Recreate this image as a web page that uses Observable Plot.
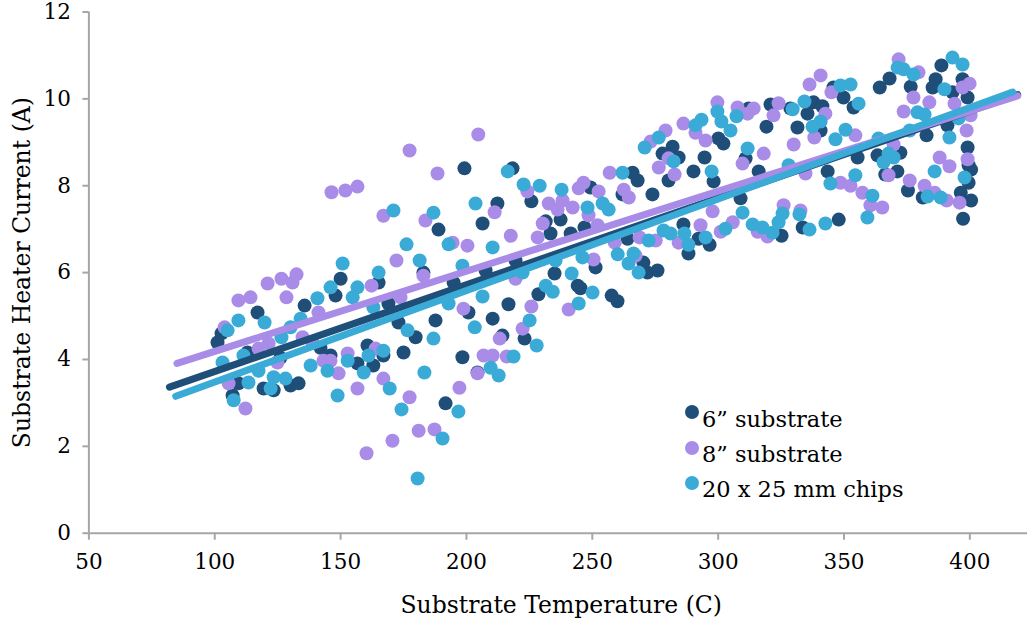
<!DOCTYPE html>
<html><head><meta charset="utf-8">
<script src="https://cdn.jsdelivr.net/npm/d3@7"></script>
<script src="https://cdn.jsdelivr.net/npm/@observablehq/plot@0.6"></script>
<style>
body{margin:0;background:#fff;}
#chart{position:relative;width:1027px;height:624px;overflow:hidden;background:#fff;}
.lg-dot{position:absolute;width:14px;height:14px;border-radius:50%;}
.lg-txt{position:absolute;font-family:"DejaVu Serif";font-size:22.5px;line-height:26px;color:#000;white-space:nowrap;}
</style></head>
<body><div id="chart"></div>
<script>
const seriesNames = ["6\u201d substrate", "8\u201d substrate", "20 x 25 mm chips"];
const seriesColors = ["#1f4e79", "#a98be8", "#3aabd6"];
const xTicks = [50, 100, 150, 200, 250, 300, 350, 400];
const yTicks = [0, 2, 4, 6, 8, 10, 12];

const temp6 = [101.1,102.7,117.0,113.0,135.7,148.0,142.0,146.0,109.4,119.4,123.4,130.1,133.3,107.1,126.1,150.0,
199.2,188.9,182.9,194.9,165.1,169.0,173.0,179.8,187.7,160.7,167.0,163.0,156.7,175.0,198.4,191.7,
218.3,225.8,212.3,206.4,249.3,237.4,231.5,233.4,241.4,246.9,207.6,219.5,235.0,251.3,244.2,245.3,228.6,216.7,200.8,210.4,223.1,214.3,204.4,
300.1,302.1,281.9,277.9,284.3,294.6,290.2,280.3,298.2,266.0,268.0,262.0,273.9,264.0,286.2,288.2,292.2,296.6,270.3,271.9,275.9,257.7,260.0,
345.8,349.8,353.8,312.1,320.8,328.7,337.9,341.4,335.5,340.7,331.5,319.2,310.9,316.1,355.4,343.5,308.9,325.2,333.6,347.9,
388.7,368.1,364.2,376.5,386.4,385.2,393.1,397.1,399.1,391.1,382.8,372.4,363.3,399.1,399.5,371.2,366.4,399.5,375.4,381.3,396.4,400.5,397.3,400.5];
const current6 = [4.39,4.60,5.08,4.16,5.24,5.47,4.27,4.09,3.45,3.33,3.29,3.40,3.45,3.17,4.04,5.86,
8.40,6.99,6.00,5.77,5.77,5.29,4.85,4.51,4.90,4.32,4.09,3.86,3.91,4.16,4.05,2.99,
8.40,7.64,7.59,7.13,7.96,7.22,7.18,6.90,6.90,7.04,6.05,6.28,5.98,6.12,5.70,5.64,5.50,5.27,5.08,4.94,4.48,4.55,3.70,
9.09,8.97,8.90,8.74,8.65,8.65,8.33,8.12,8.10,8.30,8.12,7.80,7.80,6.78,7.11,6.44,6.78,6.64,6.23,6.00,6.05,5.47,5.34,
10.26,10.03,9.80,9.78,9.87,9.78,9.92,9.83,9.66,9.27,9.34,9.36,8.63,8.33,8.65,8.33,7.71,6.85,7.04,7.22,
10.77,10.47,10.26,10.28,10.45,10.26,10.15,10.45,10.03,9.39,9.16,8.76,8.70,8.88,8.47,8.33,8.26,8.07,7.89,7.73,7.84,7.66,7.24,8.37];

const temp8 = [146.4,121.0,126.5,130.9,132.5,128.5,109.4,114.2,103.9,117.4,121.4,141.2,134.9,138.8,143.2,146.0,149.2,105.5,112.2,124.9,
177.4,188.5,156.7,151.9,167.0,183.7,194.5,200.4,172.2,182.9,162.3,173.8,198.8,163.9,152.8,156.7,167.0,197.2,177.4,181.0,187.3,170.6,160.3,
204.7,224.2,244.6,246.5,252.5,211.2,217.6,232.7,238.2,236.2,242.2,248.5,230.3,228.3,252.1,219.5,250.5,225.8,240.6,222.3,213.2,206.8,210.4,216.0,204.4,
299.7,286.2,291.0,279.1,273.2,295.0,280.3,276.4,282.7,256.9,262.5,264.5,297.8,258.9,268.8,275.2,293.0,284.3,301.0,267.2,
340.7,336.3,345.0,307.7,314.1,311.7,324.0,322.0,342.6,338.2,354.5,330.0,318.1,309.7,334.7,348.6,352.6,305.8,326.0,332.7,315.7,319.6,
371.7,379.6,397.1,399.9,377.6,383.9,393.9,373.7,400.3,398.7,369.7,399.1,388.0,391.9,367.7,376.1,382.0,386.0,390.8,395.9,360.5,365.2,357.3];
const current8 = [7.85,5.75,5.86,5.77,5.96,5.43,5.36,5.43,4.74,4.25,4.37,5.08,4.51,4.39,3.97,3.97,3.68,3.45,2.87,3.93,
8.81,8.28,7.98,7.89,7.31,7.20,6.69,6.62,6.28,5.93,5.70,5.43,5.17,4.25,4.14,3.33,3.56,3.35,3.13,2.36,2.39,2.13,1.84,
9.18,7.87,7.94,8.07,7.87,7.39,6.85,7.59,7.66,7.45,7.50,7.32,7.13,6.81,7.09,5.86,6.30,5.22,5.15,4.71,4.48,4.09,4.09,4.07,3.68,
9.92,9.43,9.22,9.27,9.02,9.04,8.63,8.42,8.26,8.30,7.91,7.73,7.41,6.69,6.81,6.74,7.09,6.69,6.94,6.39,
10.54,10.33,10.15,9.80,9.78,9.66,9.90,9.62,9.66,9.11,9.16,8.95,8.74,8.51,8.28,8.07,8.00,7.16,7.55,7.43,6.94,6.83,
10.91,10.61,10.26,10.35,10.03,9.92,9.89,9.71,9.62,9.27,8.95,8.61,8.65,8.45,8.24,8.12,8.00,7.84,7.66,7.61,7.55,7.50,7.84];

const tempChips = [150.8,119.8,109.4,105.1,103.1,111.4,126.5,130.1,140.8,146.0,134.1,138.1,144.8,148.8,113.4,117.4,122.2,123.4,128.1,107.5,
171.0,186.9,203.6,192.9,176.2,181.4,198.4,165.1,156.7,154.8,163.0,176.6,186.9,192.9,161.1,167.0,152.8,159.2,169.5,183.3,174.2,196.8,190.5,180.6,
216.4,222.7,229.1,237.8,248.1,210.4,222.3,235.4,241.8,246.1,250.1,231.5,234.3,206.4,244.6,203.3,225.1,227.9,218.7,209.6,212.8,
299.7,301.3,293.4,291.0,276.4,270.8,282.3,297.4,262.0,254.1,256.5,272.4,278.3,281.1,286.6,288.2,295.0,302.9,260.1,266.4,264.4,268.4,
348.6,352.6,355.8,307.3,329.6,334.3,340.7,337.5,304.9,346.6,350.6,311.7,328.0,344.6,354.5,309.7,325.6,332.3,324.0,313.7,317.6,321.6,336.3,342.6,
393.1,397.1,371.3,373.7,377.6,389.9,395.5,391.9,376.1,363.7,367.7,365.7,369.7,386.0,397.9,379.2,382.0,383.2,388.4,361.3,359.3];
const currentChips = [6.21,4.85,4.90,4.67,3.93,4.09,4.51,4.74,5.41,5.66,4.94,3.86,3.74,3.17,3.47,3.74,3.33,3.59,3.56,3.06,
7.43,7.38,7.59,6.65,6.65,6.28,6.16,6.00,5.66,5.43,5.20,4.67,4.48,5.29,4.09,4.20,3.97,3.70,3.33,3.70,2.85,2.80,2.18,1.26,
8.33,8.03,8.00,7.91,7.50,6.58,6.00,6.28,5.98,6.35,5.54,5.70,5.56,5.45,5.29,4.74,4.90,4.32,4.07,3.81,3.63,
9.71,9.48,9.52,9.39,9.11,8.88,8.56,8.33,8.30,7.59,7.45,6.74,6.97,6.90,6.90,6.64,6.81,7.01,6.42,6.44,6.21,6.00,
10.31,10.33,9.89,9.60,9.76,9.94,9.48,9.36,9.27,9.07,9.29,8.86,8.47,8.05,8.24,7.38,7.36,7.34,7.16,7.11,7.04,6.92,6.99,7.13,
10.95,10.79,10.72,10.68,10.56,10.22,9.55,9.11,9.27,9.09,8.74,8.54,8.65,8.33,8.19,9.69,9.64,7.75,7.73,7.77,7.27];

// Linear trend lines: slope, intercept, extent
const trendSlope = [0.01999, 0.01844, 0.02107];
const trendIntercept = [1.723, 2.343, 1.372];
const trendStart = [82, 85, 84.5];
const trendEnd = [419, 419, 417];

const temps = [temp6, temp8, tempChips];
const currents = [current6, current8, currentChips];

const points = temps.map((ts, s) => ts.map((t, i) => ({t, a: currents[s][i], s})));
const trends = seriesNames.map((name, s) => [trendStart[s], trendEnd[s]].map(t => ({t, a: trendIntercept[s] + trendSlope[s] * t, s})));

const axisGray = "#a6a6a6";
const plot = Plot.plot({
  width: 1027,
  height: 624,
  marginLeft: 88.4,
  marginRight: 0,
  marginTop: 11.5,
  marginBottom: 91.3,
  x: {domain: [50, 422.9]},
  y: {domain: [0, 12]},
  style: {fontFamily: "DejaVu Serif", fontSize: "21.5px", color: "#000", background: "#fff", overflow: "visible"},
  marks: [
    Plot.ruleY([0], {stroke: axisGray, strokeWidth: 2}),
    Plot.ruleX([50], {stroke: axisGray, strokeWidth: 2}),
    Plot.axisX(xTicks, {tickSize: 7, tickPadding: 14, stroke: axisGray, strokeWidth: 2, label: null, fill: "#000"}),
    Plot.axisY(yTicks, {tickSize: 6, tickPadding: 12, stroke: axisGray, strokeWidth: 2, label: null, fill: "#000"}),
    ...points.map((pts, s) => Plot.dot(pts, {x: "t", y: "a", r: 7, fill: seriesColors[s], stroke: "none"})),
    ...trends.map((tr, s) => Plot.line(tr, {x: "t", y: "a", stroke: seriesColors[s], strokeWidth: 7, strokeLinecap: "round"})),
    Plot.text(["Substrate Temperature (C)"], {frameAnchor: "bottom", dy: 72, dx: 3, fontSize: 23.5, lineAnchor: "middle", textAnchor: "middle", fill: "#000"}),
    Plot.text(["Substrate Heater Current (A)"], {frameAnchor: "left", dx: -66, rotate: -90, fontSize: 23.5, lineAnchor: "middle", textAnchor: "middle", fill: "#000"})
  ]
});
const chart = document.getElementById("chart");
chart.appendChild(plot);

const legendDotY = [412, 448, 483];
const legendTextY = [419, 454, 489];
seriesNames.forEach((name, s) => {
  const d = document.createElement("div");
  d.className = "lg-dot";
  d.style.left = (692 - 7) + "px";
  d.style.top = (legendDotY[s] - 7) + "px";
  d.style.background = seriesColors[s];
  chart.appendChild(d);
  const t = document.createElement("div");
  t.className = "lg-txt";
  t.style.left = "702px";
  t.style.top = (legendTextY[s] - 13) + "px";
  t.textContent = name;
  chart.appendChild(t);
});
</script></body></html>
